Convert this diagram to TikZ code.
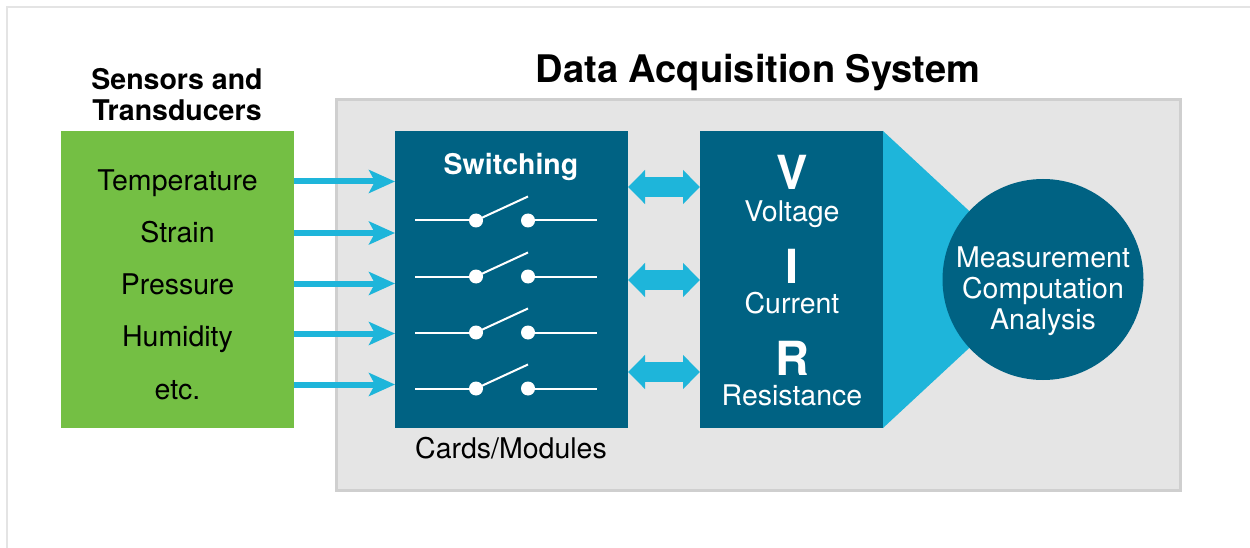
\documentclass[tikz,border=0pt]{standalone}
\usepackage{fontspec}
\setmainfont{TeX Gyre Heros}
\usetikzlibrary{arrows.meta,calc}
\definecolor{tealb}{HTML}{006283}
\definecolor{cyanb}{HTML}{1EB5DA}
\definecolor{leaf}{HTML}{74BF44}
\definecolor{panel}{HTML}{E5E5E5}
\definecolor{panelline}{HTML}{CFCFCF}
\definecolor{frameline}{HTML}{E4E4E4}
\tikzset{
  every node/.style={inner sep=0pt,outer sep=0pt},
  block/.style={anchor=north west,rectangle,minimum width=#1,minimum height=297pt},
  inarrow/.style={draw=cyanb,line width=6pt,-{Stealth[length=26pt,width=23pt,inset=6pt]}},
  busarrow/.style={draw=cyanb,line width=20pt,{Triangle[length=17pt,width=33pt]}-{Triangle[length=17pt,width=33pt]}},
  sensorlabel/.style={font=\fontsize{28.5pt}{28.5pt}\selectfont,text=black,anchor=base},
  whitelabel/.style={font=\fontsize{28.5pt}{28.5pt}\selectfont,text=white,anchor=base},
  bigletter/.style={font=\fontsize{47pt}{47pt}\selectfont\bfseries,text=white,anchor=base},
  heading/.style={font=\fontsize{28.5pt}{31pt}\selectfont\bfseries,text=black,align=center},
  swline/.style={draw=white,line width=2pt},
  swdot/.style={circle,fill=white,minimum size=14pt},
}
\newcommand{\switchrow}[2]{%
  \node[swdot] (a#1) at (476,#2) {};
  \node[swdot] (b#1) at (528,#2) {};
  \coordinate (l#1) at (415,#2);
  \coordinate (r#1) at (597,#2);
  \coordinate (t#1) at (528,#2-24);
  \draw[swline] (l#1) -- (a#1.center);
  \draw[swline] (b#1.center) -- (r#1);
  \draw[swline] (a#1.center) -- (t#1);
}
\begin{document}
\begin{tikzpicture}[x=1pt,y=-1pt]
\useasboundingbox (0,0) rectangle (1250,548);
\fill[white] (0,0) rectangle (1250,548);
\draw[frameline,line width=2pt] (7,548) -- (7,7) -- (1250,7);
\node[anchor=center,draw=panelline,fill=panel,line width=3pt,rectangle,minimum width=844pt,minimum height=391pt] (panel) at (758.5,295) {};
\node[font=\fontsize{38pt}{38pt}\selectfont\bfseries,anchor=base] (title) at (758,83) {Data Acquisition System};
\node[heading,anchor=center] (senshead) at (177,95) {Sensors and\\Transducers};
\node[block=233pt,fill=leaf] (sensors) at (61,131) {};
\node[block=233pt,fill=tealb] (switching) at (395,131) {};
\node[block=183pt,fill=tealb] (vir) at (700,131) {};
\coordinate (circc) at (1043,279.5);
\fill[cyanb] (vir.north east) -- (circc) -- (vir.south east) -- cycle;
\node[circle,fill=tealb,minimum size=201pt] (circ) at (circc) {};
\node[whitelabel,align=center,anchor=center,font=\fontsize{28.5pt}{31pt}\selectfont] (meas) at (1043,291.5) {Measurement\\Computation\\Analysis};
\foreach \n/\t/\y in {s1/Temperature/191,s2/Strain/242.5,s3/Pressure/294.5,s4/Humidity/346.5,s5/etc./399}
  \node[sensorlabel] (\n) at (177.5,\y) {\t};
\foreach \i/\y in {1/181.5,2/233,3/283.5,4/333.5,5/384.5}{
  \coordinate (from\i) at (sensors.east |- 0,\y);
  \coordinate (to\i) at (switching.west |- 0,\y);
  \draw[inarrow] (from\i) -- (to\i);
}
\node[font=\fontsize{28.5pt}{28.5pt}\selectfont\bfseries,text=white,anchor=base] (swt) at (511,175) {Switching};
\switchrow{1}{220.5}
\switchrow{2}{276.5}
\switchrow{3}{332.5}
\switchrow{4}{388.5}
\node[sensorlabel] (cards) at (511,458) {Cards/Modules};
\foreach \i/\y in {1/187,2/280,3/372}{
  \coordinate (bl\i) at (switching.east |- 0,\y);
  \coordinate (br\i) at (vir.west |- 0,\y);
  \draw[busarrow] (bl\i) -- (br\i);
}
\node[bigletter] (v) at (792,190) {V};
\node[whitelabel] (vt) at (792,221.5) {Voltage};
\node[bigletter] (i) at (792,283) {I};
\node[whitelabel] (it) at (792,313.5) {Current};
\node[bigletter] (r) at (792,375) {R};
\node[whitelabel] (rt) at (792,405.5) {Resistance};
\end{tikzpicture}
\end{document}
